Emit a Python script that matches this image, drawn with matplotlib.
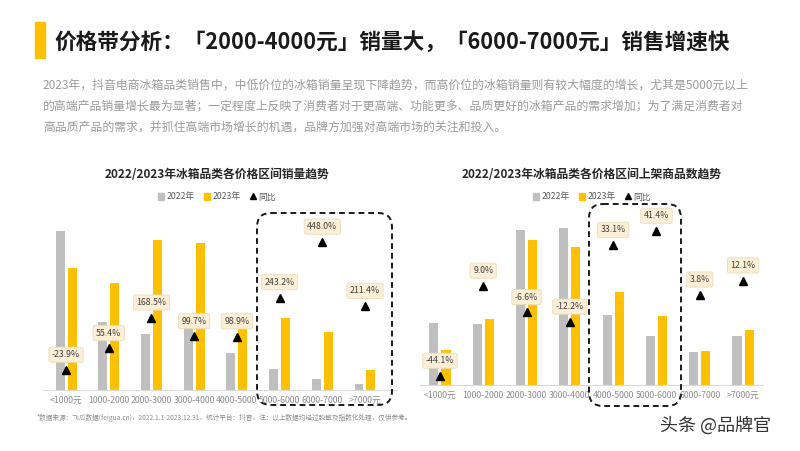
import matplotlib

matplotlib.use("Agg")
import matplotlib.pyplot as plt
from matplotlib.lines import Line2D
from matplotlib.patches import FancyBboxPatch, Patch, Rectangle

plt.rcParams["font.family"] = ["Noto Sans CJK SC", "DejaVu Sans"]

# price bands shared by both charts
categories = ["<1000元", "1000-2000", "2000-3000", "3000-4000",
              "4000-5000", "5000-6000", "6000-7000", ">7000元"]

# left: sales volume (index) per band
sales_2022 = [159, 68, 56, 74, 37, 21, 10.6, 6.5]
sales_2023 = [122, 107, 150, 147, 73.5, 72, 58, 20]
sales_yoy = [-23.9, 55.4, 168.5, 99.7, 98.9, 243.2, 448.0, 211.4]

# right: number of listed products (index) per band
listing_2022 = [62, 61, 155, 157, 70, 49, 33, 49]
listing_2023 = [34.7, 66.5, 145, 138, 93, 69, 34, 55]
listing_yoy = [-44.1, 9.0, -6.6, -12.2, 33.1, 41.4, 3.8, 12.1]

GRAY = "#bfbfbf"
YELLOW = "#ffc000"
W, H = 800, 451

fig = plt.figure(figsize=(8, 4.51), dpi=100)
fig.patch.set_facecolor("white")


def px_axes(x0, y0, x1, y1):
    """Axes from pixel box (top-left origin)."""
    return fig.add_axes([x0 / W, (H - y1) / H, (x1 - x0) / W, (y1 - y0) / H])


def bar_chart(box, xlim, ylim, yoy_lim, v22, v23, yoy, title, title_x):
    ax = px_axes(*box)
    x = list(range(len(categories)))
    ax.bar([i - 0.14 for i in x], v22, width=0.21, color=GRAY, zorder=2)
    ax.bar([i + 0.14 for i in x], v23, width=0.21, color=YELLOW, zorder=2)
    ax.set_xlim(*xlim)
    ax.set_ylim(*ylim)
    ax.set_xticks(x)
    ax.set_xticklabels(categories, fontsize=6.3, color="#8c8c8c")
    ax.tick_params(axis="x", length=0, pad=4)
    ax.set_yticks([])
    for s in ["top", "left", "right"]:
        ax.spines[s].set_visible(False)
    ax.spines["bottom"].set_color("#d9d9d9")
    ax.spines["bottom"].set_linewidth(0.8)

    ax2 = ax.twinx()
    ax2.set_ylim(*yoy_lim)
    ax2.plot(x, yoy, linestyle="none", marker="^", color="black", markersize=5.5)
    for i, v in enumerate(yoy):
        ax2.annotate(f"{v:.1f}%", (i, v), xytext=(0, 11), textcoords="offset points",
                     ha="center", va="center", fontsize=6.3, color="#404040",
                     bbox=dict(boxstyle="round,pad=0.35,rounding_size=0.2",
                               fc="#fcefd6", ec="#ecdcc0", lw=0.6))
    ax2.axis("off")

    fig.text(title_x / W, 1 - 174 / H, title, ha="center", va="center",
             fontsize=8.5, fontweight="bold", color="#262626")
    handles = [Patch(color=GRAY), Patch(color=YELLOW),
               Line2D([], [], linestyle="none", marker="^", color="black", markersize=4)]
    fig.legend(handles, ["2022年", "2023年", "同比"], loc="center",
               bbox_to_anchor=(title_x / W, 1 - 197 / H), ncol=3, frameon=False,
               fontsize=6.3, labelcolor="#595959", handlelength=0.7, handleheight=0.7,
               handletextpad=0.3, columnspacing=1.0)


bar_chart((43, 200, 397, 390), (-0.54, 7.75), (0, 190), (-97.7, 602.6),
          sales_2022, sales_2023, sales_yoy,
          "2022/2023年冰箱品类各价格区间销量趋势", 217)
bar_chart((420, 200, 763, 385), (-0.46, 7.46), (0, 185), (-49.4, 59.7),
          listing_2022, listing_2023, listing_yoy,
          "2022/2023年冰箱品类各价格区间上架商品数趋势", 592)

# overlay in pixel units for header, notes and dashed highlight boxes
ov = fig.add_axes([0, 0, 1, 1], facecolor="none")
ov.set_xlim(0, W)
ov.set_ylim(H, 0)
ov.axis("off")

ov.add_patch(Rectangle((35, 22), 10, 36, color=YELLOW))
ov.text(54, 42, "价格带分析：「2000-4000元」销量大，「6000-7000元」销售增速快",
        fontsize=15.6, fontweight="bold", color="#1a1a1a", va="center")

para = [
    "2023年，抖音电商冰箱品类销售中，中低价位的冰箱销量呈现下降趋势，而高价位的冰箱销量则有较大幅度的增长，尤其是5000元以上",
    "的高端产品销量增长最为显著；一定程度上反映了消费者对于更高端、功能更多、品质更好的冰箱产品的需求增加；为了满足消费者对",
    "高品质产品的需求，并抓住高端市场增长的机遇，品牌方加强对高端市场的关注和投入。",
]
for k, line in enumerate(para):
    ov.text(43, 85 + k * 21.2, line, fontsize=8.55, color="#9a9a9a", va="center")

for x0, y0, x1, y1 in [(257, 213, 392, 405), (589, 204, 681, 406)]:
    ov.add_patch(FancyBboxPatch((x0, y0), x1 - x0, y1 - y0,
                                boxstyle="round,pad=0,rounding_size=14",
                                fc="none", ec="#1a1a1a", lw=1.4, ls=(0, (3, 2))))

ov.text(37, 418, "*数据来源：飞瓜数据(feigua.cn)，2022.1.1-2023.12.31，统计平台：抖音，注：以上数据均经过脱敏及指数化处理，仅供参考。",
        fontsize=4.8, color="#8c8c8c", va="center")
ov.text(660, 426, "头条 @品牌官", fontsize=13, color="#333333", va="center", ha="left")

fig.savefig("out.png", dpi=100, facecolor="white")
